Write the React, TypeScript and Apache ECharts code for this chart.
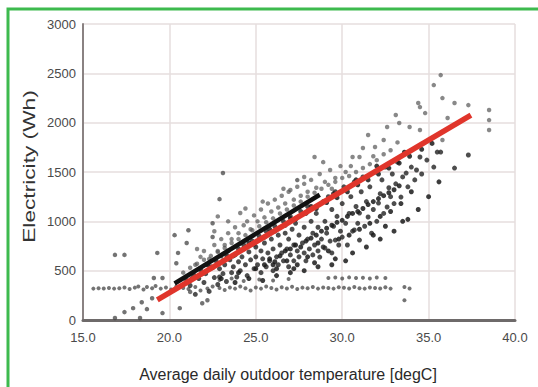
import React, { useEffect, useRef } from "react";
import * as echarts from "echarts";

const xTicks = [15, 20, 25, 30, 35, 40];
const yTicks = [0, 500, 1000, 1500, 2000, 2500, 3000];
const xTitle = "Average daily outdoor temperature [degC]";
const yTitle = "Electricity (Wh)";

const lowBand: number[][] = [
  [15.6,318],[15.9,322],[16.2,320],[16.5,325],[16.8,318],[17.1,322],[17.4,330],[17.7,315],[18.0,328],[18.2,340],[18.5,310],[18.7,335],[19.0,322],[19.2,345],[19.5,318],[19.8,330],[20.1,310],[20.4,340],[20.8,325],[21.1,315],[21.5,335],[21.8,300],[22.2,320],[22.5,340],[22.9,325],[23.2,305],[23.5,330],[23.8,318],[24.1,340],[24.4,322],[24.7,300],[25.0,330],[25.3,318],[25.6,340],[25.9,325],[26.2,310],[26.5,332],[26.8,320],[27.1,338],[27.4,315],[27.7,328],[28.0,322],[28.3,335],[28.6,318],[28.9,330],[29.2,325],[29.5,318],[29.8,332],[30.1,326],[30.4,320],[30.7,335],[31.0,322],[31.3,318],[31.6,330],[31.9,325],[32.2,320],[32.5,332],[32.8,318],[33.6,334],[33.6,200],[33.9,320],
  [22.9,405],[23.6,420],[24.3,395],[25.2,410],[26.0,400],[26.9,415],[29.2,425],[29.6,430],[30.0,420],[30.4,432],[30.8,425],[31.2,428],[31.6,420],[32.0,430],[32.5,425]
];

const lowTail: number[][] = [
  [16.85,20],[17.4,80],[17.9,120],[18.3,20],[18.4,180],[18.7,110],[19.0,220],[19.6,70],[20.6,120],[21.2,285],[21.9,170],[22.2,200],[16.85,660],[17.4,660],[19.3,680],[19.1,425],[19.6,425],[20.4,575],[20.5,680],[21.0,780],[20.3,860],[21.1,910],[22.5,980],[22.5,841],[22.9,1225],[23.1,1490],[27.4,1418]
];

const mainCloud: number[][] = [
  [21.0,400],[21.2,350],[21.4,460],[21.5,260],[21.7,420],[21.8,510],[22.0,380],[22.1,470],[22.3,290],[22.4,540],[22.6,430],[22.7,600],[22.8,360],[22.9,520],[22.9,436],
  [23.0,650],[23.1,470],[23.2,560],[23.3,390],[23.4,700],[23.5,610],[23.6,480],[23.7,540],[23.8,660],[23.9,436],[24.0,720],[24.0,590],[24.1,500],[24.2,640],[24.3,760],[24.4,560],[24.5,450],[24.6,690],[24.7,610],[24.8,800],[24.9,520],
  [25.0,740],[25.0,640],[25.1,560],[25.2,850],[25.3,700],[25.3,480],[25.4,620],[25.5,780],[25.6,900],[25.6,540],[25.7,680],[25.8,600],[25.9,820],[26.0,720],[26.0,500],[26.1,950],[26.2,640],[26.3,860],[26.3,560],[26.4,760],[26.5,680],[26.6,1000],[26.6,600],[26.7,880],[26.8,720],[26.9,540],[26.9,820],
  [27.0,1050],[27.0,660],[27.1,920],[27.2,760],[27.2,600],[27.3,980],[27.4,700],[27.5,860],[27.5,640],[27.6,1100],[27.7,780],[27.8,940],[27.8,680],[27.9,600],[28.0,1150],[28.0,820],[28.1,720],[28.2,1000],[28.3,880],[28.3,660],[28.4,760],[28.5,1080],[28.6,940],[28.6,700],[28.7,638],[28.8,820],[28.9,1200],[28.9,740],
  [29.0,730],[29.0,1000],[29.1,880],[29.2,1250],[29.3,800],[29.4,1120],[29.4,680],[29.5,950],[29.6,810],[29.6,1300],[29.7,1050],[29.8,760],[29.9,900],[30.0,1180],[30.0,840],[30.1,1350],[30.2,980],[30.3,760],[30.4,1080],[30.5,1250],[30.6,900],[30.7,912],[30.7,1400],[30.8,1150],[30.9,980],
  [31.0,810],[31.0,1084],[31.1,1300],[31.2,1450],[31.3,950],[31.4,1200],[31.5,1044],[31.6,1350],[31.7,880],[31.8,1120],[31.9,1500],[32.0,1000],[32.1,1185],[32.2,1280],[32.3,1420],[32.4,1080],[32.5,1550],[32.6,1145],[32.7,1340],[32.8,1250],[32.9,1480],
  [33.0,1180],[33.1,1380],[33.2,1600],[33.4,1246],[33.5,1450],[33.7,1489],[33.8,1350],[34.0,1550],[34.2,1420],[34.3,1520],[34.5,1652],[34.6,1480],[34.9,1621],[35.3,1550],[35.5,1702],[35.7,1702],[36.5,1540],[37.3,1672]
];

const denseBand: number[][] = [
  [25.5,560],[25.8,620],[26.1,590],[26.4,650],[26.7,700],[27.0,720],[27.3,760],[27.6,740],[27.9,800],[28.2,830],[28.5,860],[28.8,900],[29.1,930],[29.4,960],[29.7,990],[30.0,1010],[30.3,1050],[30.6,1080],[30.9,1100],[31.2,1130],[31.5,1170],[31.8,1200],[32.1,1230],[32.4,1260],[32.7,1290],[33.0,1320],[33.3,1360],
  [26.2,520],[26.8,600],[27.4,560],[28.0,640],[28.6,780],[29.2,700],[29.8,820],[30.4,860],[31.0,920],[31.6,980],[32.2,1050],[32.8,1100],[33.4,1180],
  [21.3,420],[21.9,470],[22.5,530],[23.1,600],[23.7,650],[24.3,720],[24.9,770],[25.5,840],[26.1,900],[26.7,960],[27.3,1020],[27.9,1080],[28.5,1130],[29.1,1190],[29.7,1240],[30.3,1300],[30.9,1370],[31.5,1420],[32.1,1480],[32.7,1540],[33.3,1590],[33.9,1660],[34.6,1730],[35.2,1790],
  [22.2,560],[23.3,660],[24.6,780],[25.8,920],[27.0,1030],[28.2,1150],[29.5,1280],[30.8,1420],[32.0,1560],[33.6,1700],
  [23.0,420],[23.8,380],[24.6,420],[25.4,400],[26.2,450],[27.0,480],[27.8,500],[28.6,540],[29.4,560],[30.2,600],[24.0,480],[25.0,520],[26.0,560],[27.2,520],[28.4,580],[29.6,620],[30.6,680],[31.4,740],[32.2,820],[33.0,900],[33.8,1020],[34.4,1120],[35.0,1250],[35.6,1400],[34.0,1300],[33.5,1000],[32.5,950],[31.8,860]
];

const upperCloud: number[][] = [
  [21.5,560],[21.8,640],[22.0,700],[22.3,620],[22.6,760],[22.8,700],[23.0,820],[23.2,760],[23.4,880],[23.6,820],[23.8,940],[24.0,880],[24.1,1084],[24.3,960],[24.5,1000],[24.7,920],[24.9,1060],[25.1,1000],[25.3,1120],[25.5,1040],[25.7,1180],[25.9,1100],[26.1,1220],[26.3,1140],[26.5,1260],[26.7,1180],[26.9,1300],[27.0,1317],[27.2,1220],[27.4,1350],[27.6,1260],[27.8,1380],[28.0,1300],[28.2,1420],[28.4,1652],[28.5,1340],[28.7,1480],[28.9,1600],[29.0,1400],[29.3,1520],[29.6,1440],[29.9,1560],[30.2,1500],[30.6,1652],[31.0,1652],[31.2,1743],[31.5,1875],[31.9,1753],[32.4,1824],[32.6,1956],[33.1,2077],[33.3,1996],[33.9,1956],[34.4,2199],[34.5,2158],[34.8,2097],[34.5,1925],[35.1,1824],[35.8,1824],[35.3,2381],[35.7,2482],[35.8,2249],[36.1,2047],[36.5,2199],[37.3,2178],[38.5,2128],[38.5,2026],[38.5,1925],
  [20.8,480],[21.2,530],[21.6,570],[22.0,610],[22.4,650],[22.8,690],[23.2,730],[23.6,780],[24.0,820],[24.4,860],[24.8,910],[25.2,950],[25.6,990],[26.0,1030],[26.4,1080],[26.8,1120],[27.2,1160],[27.6,1200],[28.0,1250],[28.4,1290],[28.8,1330],[29.2,1370],[29.6,1400],[30.0,1440],[30.4,1460],[30.8,1500],[31.2,1540],[31.6,1580],[32.0,1620],[32.4,1680],[32.8,1720],[33.2,1800],[29.4,1330],[30.5,1560],[31.8,1660],[27.8,1450],[26.6,1330],[25.4,1200],[24.4,1130],[23.4,1000],[22.6,900],[21.6,720],[22.8,1050]
];

const blackBand: number[][] = [[20.3, 370], [28.7, 1269]];
const regression: number[][] = [[19.3, 203], [37.45, 2077]];

export default function App() {
  const ref = useRef<HTMLDivElement>(null);
  useEffect(() => {
    if (!ref.current) return;
    const chart = echarts.init(ref.current, undefined, { renderer: "svg" });
    const font = "'Liberation Sans', Arial, sans-serif";
    chart.setOption({
      animation: false,
      backgroundColor: "#ffffff",
      grid: { left: 83, right: 23, top: 24, bottom: 67 },
      graphic: [
        {
          type: "rect",
          shape: { x: 8, y: 9, width: 560, height: 420 },
          style: { fill: "none", stroke: "#3dba4e", lineWidth: 3 },
          silent: true,
        },
        {
          type: "text",
          x: 288,
          y: 374,
          style: {
            text: xTitle,
            fontSize: 16,
            fontFamily: font,
            fill: "#2a2a2a",
            align: "center",
            verticalAlign: "middle",
          },
        },
        {
          type: "text",
          x: 29.5,
          y: 166.5,
          rotation: Math.PI / 2,
          scaleX: 1.42,
          style: {
            text: yTitle,
            fontSize: 16,
            fontFamily: font,
            fill: "#333",
            align: "center",
            verticalAlign: "middle",
          },
        },
      ],
      xAxis: {
        type: "value",
        min: 15,
        max: 40,
        interval: 5,
        axisLine: { show: true, onZero: false, lineStyle: { color: "#6e6a6a", width: 3 } },
        axisTick: { show: false },
        splitLine: { show: true, lineStyle: { color: "#e6dede", width: 1.5 } },
        axisLabel: {
          color: "#4a4a4a",
          fontSize: 13,
          fontFamily: font,
          margin: 11,
          formatter: (v: number) => (xTicks.includes(v) ? v.toFixed(1) : ""),
        },
      },
      yAxis: {
        type: "value",
        min: 0,
        max: 3000,
        interval: 500,
        axisLine: { show: true, lineStyle: { color: "#8a8282", width: 2 } },
        axisTick: { show: false },
        splitLine: { show: true, lineStyle: { color: "#e6dede", width: 1.5 } },
        axisLabel: {
          color: "#4a4a4a",
          fontSize: 13,
          fontFamily: font,
          margin: 7,
          formatter: (v: number) => (yTicks.includes(v) ? String(v) : ""),
        },
      },
      series: [
        {
          type: "scatter",
          data: upperCloud,
          symbolSize: 4.5,
          itemStyle: { color: "#555", opacity: 0.7 },
        },
        {
          type: "scatter",
          data: lowBand,
          symbolSize: 4,
          itemStyle: { color: "#444", opacity: 0.75 },
        },
        {
          type: "scatter",
          data: lowTail,
          symbolSize: 4.5,
          itemStyle: { color: "#444", opacity: 0.75 },
        },
        {
          type: "scatter",
          data: mainCloud,
          symbolSize: 5,
          itemStyle: { color: "#222", opacity: 0.8 },
        },
        {
          type: "scatter",
          data: denseBand,
          symbolSize: 5,
          itemStyle: { color: "#1a1a1a", opacity: 0.85 },
        },
        {
          type: "line",
          data: blackBand,
          symbol: "none",
          lineStyle: { color: "#111", width: 4.5 },
        },
        {
          type: "line",
          data: regression,
          symbol: "none",
          lineStyle: { color: "#e0352b", width: 5.5 },
        },
      ],
    });
    return () => chart.dispose();
  }, []);
  return (
    <div
      ref={ref}
      style={{ position: "fixed", left: 0, top: 0, width: 538, height: 387 }}
    />
  );
}
